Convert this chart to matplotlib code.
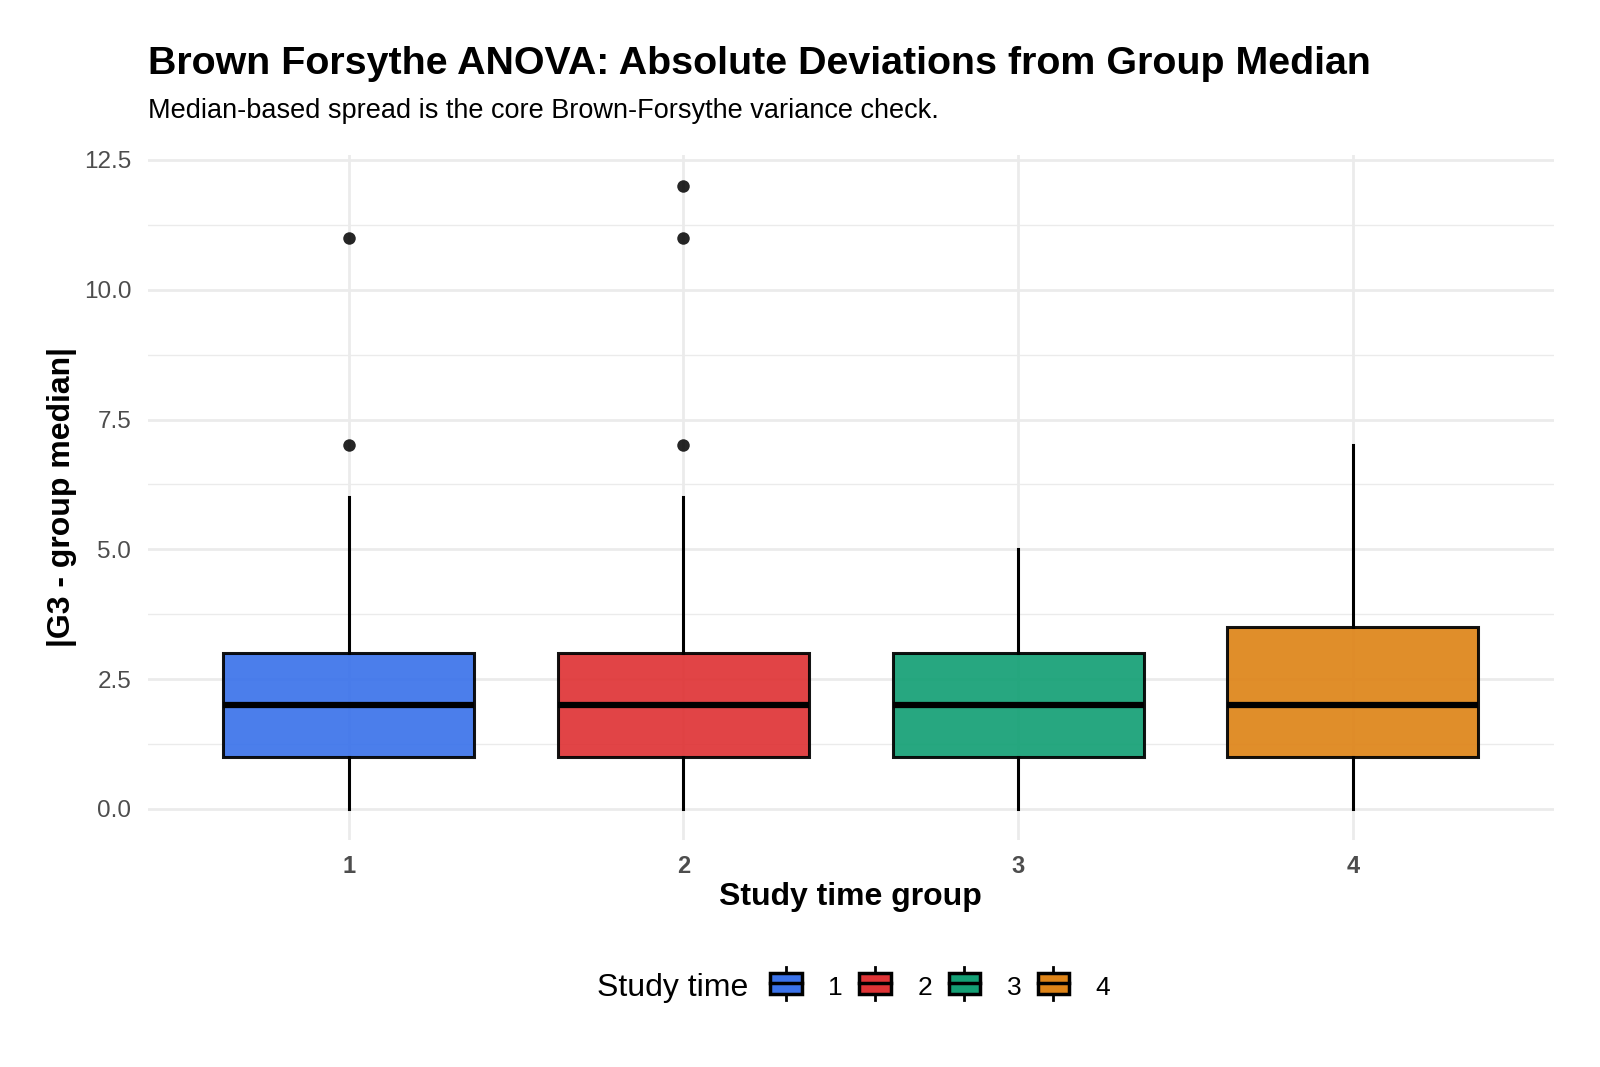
import matplotlib
matplotlib.use('Agg')
import matplotlib.pyplot as plt
from matplotlib.legend_handler import HandlerBase
from matplotlib.patches import Rectangle, Patch
from matplotlib.lines import Line2D
from matplotlib.ticker import MultipleLocator

plt.rcParams['font.family'] = ['Liberation Sans', 'DejaVu Sans']

# box statistics
groups = ['1', '2', '3', '4']
q1 = [1, 1, 1, 1]
medians = [2, 2, 2, 2]
q3 = [3, 3, 3, 3.5]
whisk_lo = [0, 0, 0, 0]
whisk_hi = [6, 6, 5, 7]
outliers = [[7, 11], [7, 11, 12], [], []]
colors = ['#3B73EA', '#DF3436', '#14A075', '#DE8418']

stats = []
for i, g in enumerate(groups):
    stats.append({'label': g, 'q1': q1[i], 'med': medians[i], 'q3': q3[i],
                  'whislo': whisk_lo[i], 'whishi': whisk_hi[i], 'fliers': outliers[i]})

fig = plt.figure(figsize=(16, 10.67), dpi=100)
ax = fig.add_axes([0.0925, 0.2127, 0.8785, 0.6423])

bp = ax.bxp(stats, positions=[1, 2, 3, 4], widths=0.75, patch_artist=True,
            showcaps=False,
            boxprops=dict(linewidth=2.2, edgecolor='black'),
            medianprops=dict(color='black', linewidth=4.5, solid_capstyle='butt'),
            whiskerprops=dict(color='black', linewidth=2.2),
            flierprops=dict(marker='o', markerfacecolor='black', markeredgecolor='none',
                            markersize=9, alpha=0.85))
for patch, c in zip(bp['boxes'], colors):
    patch.set_facecolor(c)
    patch.set_alpha(0.92)
    patch.set_edgecolor('black')
for el in bp['boxes'] + bp['medians'] + bp['whiskers'] + bp['fliers']:
    el.set_zorder(3)

ax.set_xlim(0.4, 4.6)
ax.set_ylim(-0.6, 12.6)
ax.yaxis.set_minor_locator(MultipleLocator(1.25))
ax.set_yticks([0, 2.5, 5, 7.5, 10, 12.5])
ax.set_yticklabels(['0.0', '2.5', '5.0', '7.5', '10.0', '12.5'])
ax.grid(True, which='major', color='#EBEBEB', linewidth=2.0, zorder=0)
ax.grid(True, which='minor', axis='y', color='#EBEBEB', linewidth=1.0, zorder=0)
ax.set_axisbelow(True)
for s in ax.spines.values():
    s.set_visible(False)
ax.tick_params(axis='both', which='both', length=0)
ax.tick_params(axis='y', labelsize=17.5, labelcolor='#4D4D4D', pad=12)
ax.tick_params(axis='x', labelsize=17, labelcolor='#4D4D4D', pad=11)
for t in ax.get_xticklabels():
    t.set_fontweight('bold')

ax.set_xlabel('Study time group', fontsize=23, fontweight='bold', labelpad=3)
ax.set_ylabel('|G3 - group median|', fontsize=23, fontweight='bold', labelpad=5)

fig.text(0.0925, 0.931, 'Brown Forsythe ANOVA: Absolute Deviations from Group Median',
         fontsize=28.4, fontweight='bold', ha='left', va='baseline')
fig.text(0.0925, 0.889, 'Median-based spread is the core Brown-Forsythe variance check.',
         fontsize=19.5, ha='left', va='baseline')


class BoxHandler(HandlerBase):
    def create_artists(self, legend, orig, xd, yd, w, h, fontsize, trans):
        r = Rectangle((xd, yd), w, h, facecolor=orig.get_facecolor(),
                      edgecolor='black', linewidth=2.5, transform=trans)
        mid = Line2D([xd, xd + w], [yd + h / 2, yd + h / 2], color='black',
                     linewidth=2.5, transform=trans)
        cx = xd + w / 2
        t1 = Line2D([cx, cx], [yd + h, yd + h + h * 0.3], color='black',
                    linewidth=2.0, transform=trans)
        t2 = Line2D([cx, cx], [yd, yd - h * 0.3], color='black',
                    linewidth=2.0, transform=trans)
        return [r, mid, t1, t2]


handles = [Patch(facecolor=c) for c in colors]
fig.text(0.373, 0.074, 'Study time', fontsize=23, ha='left', va='center')
fig.legend(handles, groups, handler_map={Patch: BoxHandler()}, ncol=4,
           loc='center left', bbox_to_anchor=(0.4815, 0.074), frameon=False,
           fontsize=19, handlelength=1.2, handleheight=0.85, columnspacing=0.62,
           handletextpad=1.0, borderaxespad=0, borderpad=0)

fig.savefig('out.png', dpi=100, facecolor='white')
